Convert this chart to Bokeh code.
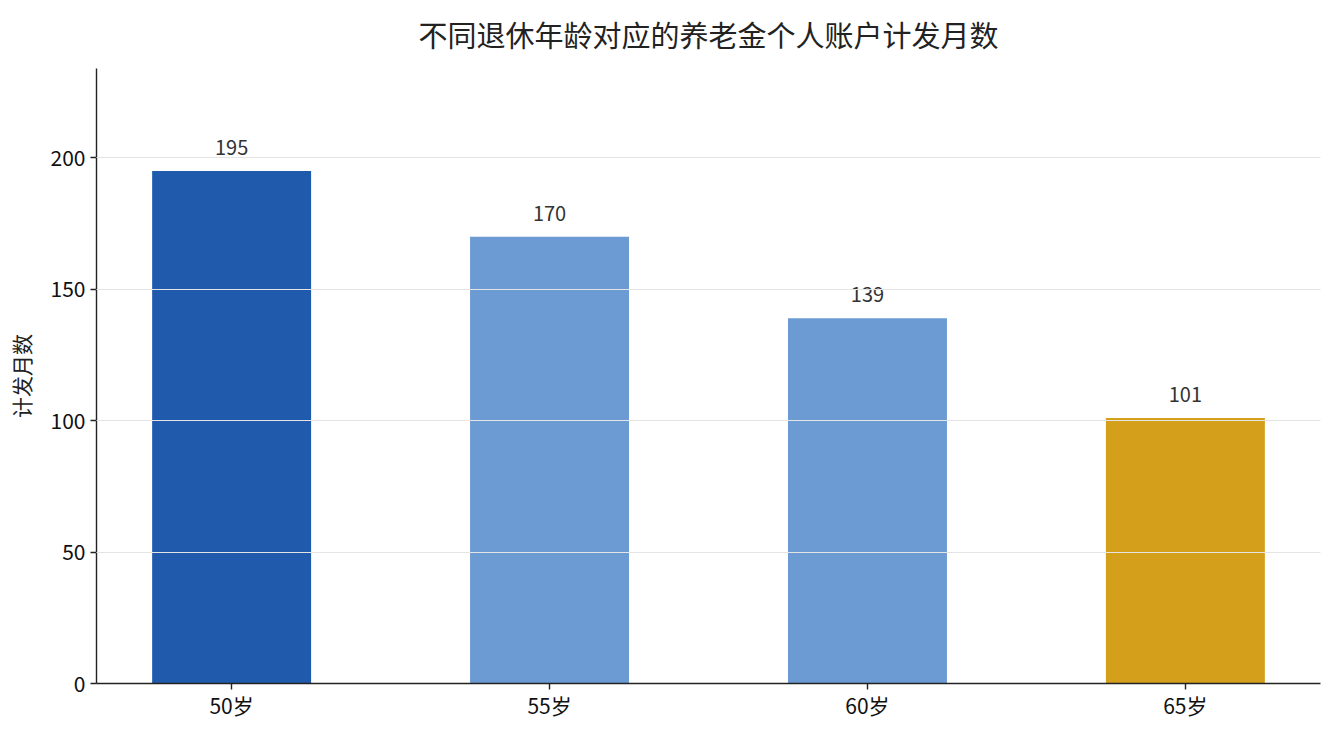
from bokeh.plotting import figure
from bokeh.models import ColumnDataSource, Range1d, FixedTicker
from bokeh.core.properties import value
from bokeh.embed import file_html
from bokeh.resources import INLINE

categories = ["50岁", "55岁", "60岁", "65岁"]
months = [195, 170, 139, 101]
colors = ["#1f5aad", "#6b9bd2", "#6b9bd2", "#d4a01c"]
title_text = "不同退休年龄对应的养老金个人账户计发月数"
y_label = "计发月数"

FONT = "Noto Sans CJK SC"

xs = list(range(len(categories)))
src = ColumnDataSource(dict(x=xs, top=months, color=colors,
                            label=[str(v) for v in months]))

p = figure(width=1332, height=733, output_backend="svg", toolbar_location=None,
           x_range=Range1d(-0.425, len(categories) - 1 + 0.425),
           y_range=Range1d(0, max(months) * 1.2),
           min_border_left=96, min_border_right=12, min_border_top=68, min_border_bottom=50,
           frame_width=1224, frame_height=615)

p.vbar(x="x", top="top", width=0.5, bottom=0, fill_color="color", line_color=None, source=src)
p.text(x="x", y="top", text="label", source=src, text_align="center", text_baseline="bottom",
       y_offset=-16, text_font=value(FONT), text_font_size="20px", text_color="#333333")

p.title.text = title_text
p.title.align = "center"
p.title.vertical_align = "top"
p.title.text_font = FONT
p.title.text_font_size = "29px"
p.title.text_font_style = "normal"
p.title.text_color = "#222222"
p.title.offset = 0
p.title.standoff = 24

p.outline_line_color = None
p.xgrid.grid_line_color = None
p.ygrid.grid_line_color = "#e4e4e4"
p.ygrid.grid_line_width = 1
p.ygrid.level = "overlay"

p.xaxis.ticker = FixedTicker(ticks=xs)
p.xaxis.major_label_overrides = {i: c for i, c in enumerate(categories)}
p.yaxis.ticker = FixedTicker(ticks=[0, 50, 100, 150, 200])
p.ygrid.ticker = FixedTicker(ticks=[0, 50, 100, 150, 200])

for ax in (p.xaxis, p.yaxis):
    ax.axis_line_color = "#222222"
    ax.axis_line_width = 1.4
    ax.major_tick_line_color = "#222222"
    ax.major_tick_line_width = 1.4
    ax.major_tick_out = 6
    ax.major_tick_in = 0
    ax.minor_tick_line_color = None
    ax.major_label_text_font = FONT
    ax.major_label_text_font_size = "21px"
    ax.major_label_text_color = "#111111"
    ax.major_label_standoff = 5

p.xaxis.major_label_standoff = 0

p.yaxis.axis_label = y_label
p.yaxis.axis_label_text_font = FONT
p.yaxis.axis_label_text_font_size = "21px"
p.yaxis.axis_label_text_font_style = "normal"
p.yaxis.axis_label_text_color = "#222222"
p.yaxis.axis_label_standoff = 12

open("out.html", "w").write(file_html(p, INLINE))
